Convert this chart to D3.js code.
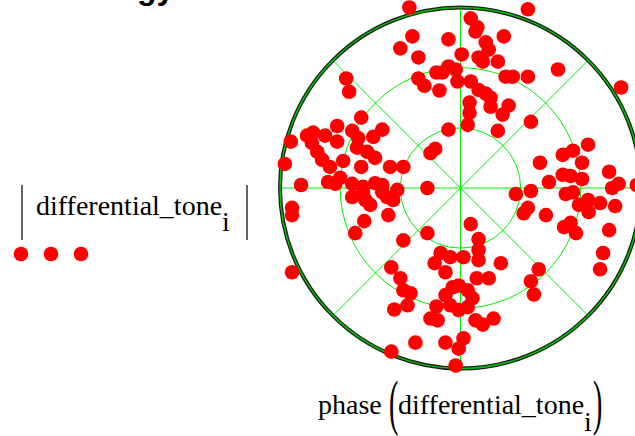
<!DOCTYPE html>
<html>
<head>
<meta charset="utf-8">
<script src="https://cdn.jsdelivr.net/npm/d3@7"></script>
<style>
  body { margin: 0; background: #fff; }
  svg { display: block; }
</style>
</head>
<body>
<div id="chart"></div>
<script>
const toneRe = [
  -0.85, 1.12, 0.17, 0.28, 0.25, 0.72, -0.20, -0.80, -1.00, -0.70,
  0.42, 0.47, 0.02, 0.30, 0.37, 0.62, 1.62, 2.67, 0.75, 0.87,
  1.12, -0.40, -0.30, -0.20, -0.08, -0.70, -0.60, -0.35, -1.90, -1.85,
  -0.05, 0.17, 0.30, 0.42, 0.50, 0.50, 0.80, 0.70, 0.15, 0.15,
  0.12, 1.17, 0.62, -0.20, -1.65, -0.42, -0.50,
  -2.82, -2.92, -2.65, -2.80, -2.80, -2.55, -2.45, -2.47, -2.25, -2.05,
  -2.05, -1.80, -1.70, -1.45, -1.30, -2.38, -2.30, -2.17, -1.95, -1.72,
  -1.55, -1.42, -1.65, -1.17, -0.95, -2.20, -2.00, -2.08, -1.80, -1.62,
  -1.42, -1.30, -1.05, -1.80, -1.62, -1.58, -1.50, -1.30, -1.22, -1.12,
  -1.20, -1.60, -1.75, -0.95, -0.55,
  -0.55, 0.17, 0.30, 0.30, 0.30, 0.05, -0.33, -0.17, -0.43, -0.25, 0.67,
  2.12, 1.87, 1.70, 2.02, 1.32, 2.47, 1.70, 1.83, 2.02, 1.47,
  2.63, 2.52, 2.93, 0.92, 1.17, 1.75, 1.87, 2.12, 1.97, 2.13,
  2.32, 2.57, 1.12, 1.05, 1.42, 1.72, 1.83, 1.92, 2.47, 2.37,
  2.32, 1.30, 1.17, 1.22,
  -2.80, -1.15, -1.00, -0.95, -0.83, -0.88, -1.10, 0.27, 0.47,
  -0.13, -0.03, 0.12, 0.20, 0.12, -0.03, -0.17, -0.25,
  -0.40, -0.50, -0.38, 0.25, 0.37, 0.55, -0.75, -0.25, -0.03, 0.05, -1.15, -0.08
]
const toneIm = [
  3.00, 2.97, 2.82, 2.67, 2.60, 2.52, 2.47, 2.52, 2.32, 2.17,
  2.42, 2.30, 2.22, 2.17, 2.10, 2.10, 1.97, 1.67, 1.85, 1.85,
  1.85, 1.92, 1.92, 2.02, 1.97, 1.82, 1.70, 1.62, 1.82, 1.60,
  1.77, 1.77, 1.63, 1.57, 1.50, 1.35, 1.37, 1.22, 1.42, 1.25,
  1.05, 1.10, 0.95, 0.97, 1.17, 0.65, 0.58,
  0.77, 0.40, 0.05, -0.33, -0.45, 0.87, 0.92, 0.75, 0.87, 1.03,
  0.77, 0.95, 0.83, 0.85, 0.97, 0.60, 0.47, 0.35, 0.45, 0.67,
  0.60, 0.50, 0.35, 0.35, 0.35, 0.10, 0.17, 0.07, 0.07, 0.02,
  0.08, 0.05, -0.03, -0.15, -0.08, -0.20, -0.28, -0.07, -0.15, -0.20,
  -0.45, -0.55, -0.75, -0.87, 0.00,
  -0.75, -0.60, -0.85, -1.03, -1.20, -1.15, -1.08, -1.15, -1.25, -1.40, -1.25,
  0.72, 0.62, 0.55, 0.42, 0.42, 0.27, 0.22, 0.20, 0.15, 0.10,
  0.07, 0.00, 0.05, -0.10, -0.05, -0.10, -0.07, -0.20, -0.28, -0.40,
  -0.25, -0.30, -0.33, -0.42, -0.45, -0.65, -0.58, -0.75, -0.70, -1.08,
  -1.35, -1.35, -1.55, -1.77,
  -1.40, -1.32, -1.50, -1.70, -1.75, -1.95, -2.02, -1.50, -1.50,
  -1.65, -1.62, -1.70, -1.83, -1.98, -2.03, -1.95, -1.78,
  -1.97, -2.17, -2.20, -2.20, -2.27, -2.17, -2.57, -2.57, -2.67, -2.50, -2.72, -2.95
]
const ringTicks = [1, 2, 3]
const spokeDegrees = [0, 45, 90, 135, 180, 225, 270, 315]
const varName = 'differential_tone'
const indexName = 'i'

const WIDTH = 635
const HEIGHT = 436
const center = { x: 460.5, y: 188 }
const outerRadius = 180.5
const SERIF = '"Times New Roman", Times, "Liberation Serif", "DejaVu Serif", serif'

const svg = d3.select('#chart')
  .append('svg')
  .attr('width', WIDTH)
  .attr('height', HEIGHT)
  .style('background-color', 'white')

const data = toneRe.map((re, i) => ({
  re: re,
  im: toneIm[i],
  mag: Math.hypot(re, toneIm[i]),
  phase: Math.atan2(toneIm[i], re)
}))

const r = d3.scaleLinear()
  .domain([0, d3.max(ringTicks)])
  .range([0, outerRadius])

// phase measured counter-clockwise from the right; pointRadial is clockwise from top
const toXY = (phase, radius) => d3.pointRadial(Math.PI / 2 - phase, radius)

const plot = svg.append('g')
  .attr('transform', `translate(${center.x}, ${center.y})`)

// grid
plot.selectAll('line.spoke')
  .data(spokeDegrees)
  .enter()
  .append('line')
  .classed('spoke', true)
  .attr('x1', 0)
  .attr('y1', 0)
  .attr('x2', d => toXY(d * Math.PI / 180, r(d3.max(ringTicks)))[0])
  .attr('y2', d => toXY(d * Math.PI / 180, r(d3.max(ringTicks)))[1])
  .attr('stroke', '#00f000')
  .attr('stroke-width', 1)

plot.selectAll('circle.ring')
  .data(ringTicks.slice(0, -1))
  .enter()
  .append('circle')
  .classed('ring', true)
  .attr('r', d => r(d))
  .attr('fill', 'none')
  .attr('stroke', '#00f000')
  .attr('stroke-width', 1)

// outer boundary: dark edge with a green line inside
plot.append('circle')
  .attr('r', r(d3.max(ringTicks)))
  .attr('fill', 'none')
  .attr('stroke', '#1a1a1a')
  .attr('stroke-width', 4)
plot.append('circle')
  .attr('r', r(d3.max(ringTicks)))
  .attr('fill', 'none')
  .attr('stroke', '#00c000')
  .attr('stroke-width', 1.5)

// points
plot.selectAll('circle.pt')
  .data(data)
  .enter()
  .append('circle')
  .classed('pt', true)
  .attr('cx', d => toXY(d.phase, r(d.mag))[0])
  .attr('cy', d => toXY(d.phase, r(d.mag))[1])
  .attr('r', 7.3)
  .attr('fill', '#ff0000')

// cut-off heading at the top (it is cut off in the original too)
svg.append('text')
  .style('font-family', '"Liberation Sans", Arial, sans-serif')
  .style('font-weight', 'bold')
  .style('font-size', '32px')
  .attr('x', 137)
  .attr('y', -1)
  .attr('fill', '#000')
  .text('gy')

// legend (left)
const legendText = svg.append('text')
  .style('font-family', SERIF)
  .style('font-size', '28px')
  .attr('x', 36)
  .attr('y', 215)
  .attr('fill', '#000')
legendText.append('tspan').text(varName)
legendText.append('tspan').attr('dy', 16).text(indexName)

svg.selectAll('line.absbar')
  .data([22, 247])
  .enter()
  .append('line')
  .classed('absbar', true)
  .attr('x1', d => d)
  .attr('x2', d => d)
  .attr('y1', 185)
  .attr('y2', 240)
  .attr('stroke', '#333')
  .attr('stroke-width', 1.5)

svg.selectAll('circle.legdot')
  .data([21, 51, 81])
  .enter()
  .append('circle')
  .classed('legdot', true)
  .attr('cx', d => d)
  .attr('cy', 254)
  .attr('r', 7.3)
  .attr('fill', '#ff0000')

// axis label (bottom)
svg.append('text')
  .style('font-family', SERIF)
  .style('font-size', '28px')
  .attr('x', 318)
  .attr('y', 414)
  .attr('fill', '#000')
  .text('phase')

const paren = (ch, x) => svg.append('text')
  .style('font-family', SERIF)
  .style('font-size', '28px')
  .attr('transform', `translate(${x}, 423) scale(1, 2.2)`)
  .attr('fill', '#000')
  .text(ch)
paren('(', 389)
paren(')', 593)

const xLabel2 = svg.append('text')
  .style('font-family', SERIF)
  .style('font-size', '28px')
  .attr('x', 398)
  .attr('y', 414)
  .attr('fill', '#000')
xLabel2.append('tspan').text(varName)
xLabel2.append('tspan').attr('dy', 17).text(indexName)
</script>
</body>
</html>
